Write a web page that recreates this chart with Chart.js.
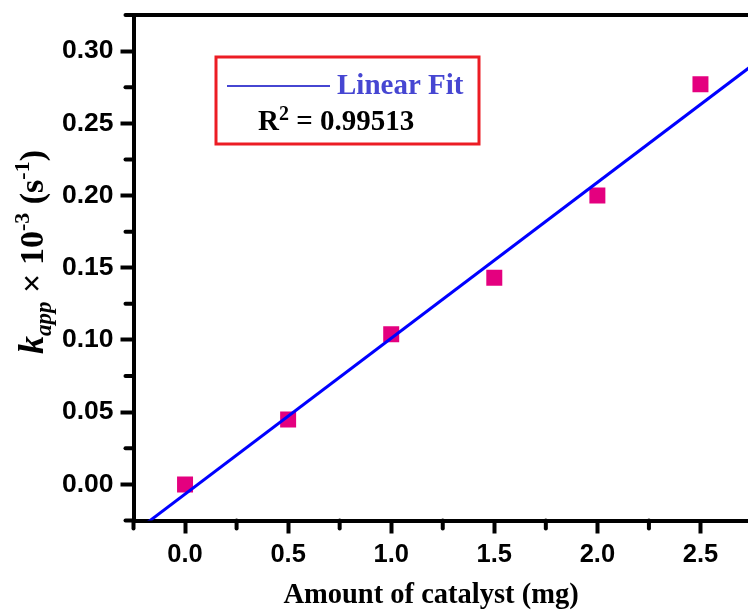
<!DOCTYPE html>
<html>
<head>
<meta charset="utf-8">
<script src="https://cdn.jsdelivr.net/npm/chart.js@4.4.1/dist/chart.umd.min.js"></script>
<style>
  html, body { margin: 0; padding: 0; background: #fff; overflow: hidden; }
  canvas { display: block; }
</style>
</head>
<body>
<canvas id="chart" width="752" height="610"></canvas>
<script>
// catalyst amount (mg) and apparent rate constant
const catalyst = [0.0, 0.5, 1.0, 1.5, 2.0, 2.5]
const kapp = [0.000, 0.045, 0.104, 0.143, 0.200, 0.277]

// linear fit line, ends at the axis limits
const fitX = [-0.25, 2.75]
const fitY = [-0.0337, 0.290]
const rSquared = "0.99513"

const xTicks = [0.0, 0.5, 1.0, 1.5, 2.0, 2.5]
const xMinor = [-0.25, 0.25, 0.75, 1.25, 1.75, 2.25, 2.75]
const yTicks = [0.00, 0.05, 0.10, 0.15, 0.20, 0.25, 0.30]
const yMinor = [-0.025, 0.025, 0.075, 0.125, 0.175, 0.225, 0.275, 0.325]

const SERIF = '"Liberation Serif", "Times New Roman", serif'
const SANS = '"Liberation Sans", Arial, sans-serif'

// minor ticks, top frame line, legend box and axis titles
const decorations = {
    id: "decorations",
    afterDraw(chart){
        const ctx = chart.ctx
        const { left, right, top, bottom } = chart.chartArea
        const xs = chart.scales.x, ys = chart.scales.y
        ctx.save()
        ctx.strokeStyle = "#000"
        ctx.lineWidth = 4
        ctx.lineCap = "round"
        xMinor.forEach(v=>{
            const px = xs.getPixelForValue(v)
            ctx.beginPath(); ctx.moveTo(px, bottom); ctx.lineTo(px, bottom + 8); ctx.stroke()
        })
        yMinor.forEach(v=>{
            const py = ys.getPixelForValue(v)
            ctx.beginPath(); ctx.moveTo(left, py); ctx.lineTo(left - 8, py); ctx.stroke()
        })
        ctx.lineCap = "butt"
        ctx.beginPath(); ctx.moveTo(left - 2, top); ctx.lineTo(right, top); ctx.stroke()

        // legend box
        ctx.strokeStyle = "#ec1c24"
        ctx.lineWidth = 3
        ctx.strokeRect(216, 57, 263, 87)
        ctx.strokeStyle = "#4646d2"
        ctx.lineWidth = 2
        ctx.beginPath(); ctx.moveTo(227, 86); ctx.lineTo(330, 86); ctx.stroke()
        ctx.fillStyle = "#4646d2"
        ctx.textBaseline = "alphabetic"
        ctx.font = "bold 29px " + SERIF
        ctx.fillText("Linear Fit", 337, 94)
        ctx.fillStyle = "#000"
        drawRuns(ctx, 258, 130, [
            { t: "R", f: "bold 29px " + SERIF },
            { t: "2", f: "bold 20px " + SERIF, dy: -10 },
            { t: " = " + rSquared, f: "bold 29px " + SERIF },
        ])

        // x title
        ctx.font = "bold 28.5px " + SERIF
        ctx.textAlign = "center"
        ctx.fillText("Amount of catalyst (mg)", 431, 603)
        ctx.textAlign = "left"

        // y title, rotated
        const runs = [
            { t: "k", f: "italic bold 36px " + SERIF },
            { t: "app", f: "italic bold 23px " + SERIF, dy: 8 },
            { t: " \u00d7 10", f: "bold 34px " + SERIF },
            { t: "-3", f: "bold 22px " + SERIF, dy: -14 },
            { t: " (s", f: "bold 34px " + SERIF },
            { t: "-1", f: "bold 22px " + SERIF, dy: -14 },
            { t: ")", f: "bold 34px " + SERIF },
        ]
        const w = measureRuns(ctx, runs)
        ctx.translate(43, 252)
        ctx.rotate(-Math.PI / 2)
        drawRuns(ctx, -w / 2, 0, runs)
        ctx.restore()
    }
}

function measureRuns(ctx, runs){
    let w = 0
    runs.forEach(r=>{ ctx.font = r.f; w += ctx.measureText(r.t).width })
    return w
}

function drawRuns(ctx, x, y, runs){
    runs.forEach(r=>{
        ctx.font = r.f
        ctx.fillText(r.t, x, y + (r.dy || 0))
        x += ctx.measureText(r.t).width
    })
}

// pin the plot area: no automatic room for edge labels
function noPadding(scale){
    scale.paddingLeft = 0
    scale.paddingRight = 0
    scale.paddingTop = 0
    scale.paddingBottom = 0
}

new Chart(document.getElementById("chart"), {
    type: "scatter",
    data: {
        datasets: [
            {
                type: "line",
                data: fitX.map((x, i)=>({ x: x, y: fitY[i] })),
                borderColor: "#0000ff",
                borderWidth: 3,
                pointRadius: 0,
                fill: false,
            },
            {
                data: catalyst.map((x, i)=>({ x: x, y: kapp[i] })),
                backgroundColor: "#e4007f",
                borderWidth: 0,
                pointStyle: "rect",
                pointRadius: 11.3,
                pointHoverRadius: 11.3,
            },
        ]
    },
    options: {
        responsive: false,
        animation: false,
        devicePixelRatio: 1,
        layout: { autoPadding: false, padding: { top: 15, left: 0, right: 0, bottom: 0 } },
        plugins: {
            legend: { display: false },
            tooltip: { enabled: false },
        },
        scales: {
            x: {
                type: "linear",
                min: -0.25,
                max: 2.75,
                afterBuildTicks: (scale)=>{ scale.ticks = xTicks.map(v=>({ value: v })) },
                afterFit: (scale)=>{ scale.height = 89.5; noPadding(scale) },
                border: { display: true, color: "#000", width: 4 },
                grid: { drawOnChartArea: false, drawTicks: true, tickLength: 13, tickWidth: 4, tickColor: "#000" },
                ticks: {
                    color: "#000",
                    padding: 6,
                    maxRotation: 0,
                    font: { family: SANS, size: 25.5, weight: "bold" },
                    callback: (v)=>v.toFixed(1),
                },
            },
            y: {
                type: "linear",
                min: -0.025,
                max: 0.325,
                afterBuildTicks: (scale)=>{ scale.ticks = yTicks.map(v=>({ value: v })) },
                afterFit: (scale)=>{ scale.width = 133.5; noPadding(scale) },
                border: { display: true, color: "#000", width: 4 },
                grid: { drawOnChartArea: false, drawTicks: true, tickLength: 13, tickWidth: 4, tickColor: "#000" },
                ticks: {
                    color: "#000",
                    padding: 7,
                    font: { family: SANS, size: 26.5, weight: "bold" },
                    callback: (v)=>v.toFixed(2),
                },
            },
        },
    },
    plugins: [decorations],
})
</script>
</body>
</html>
